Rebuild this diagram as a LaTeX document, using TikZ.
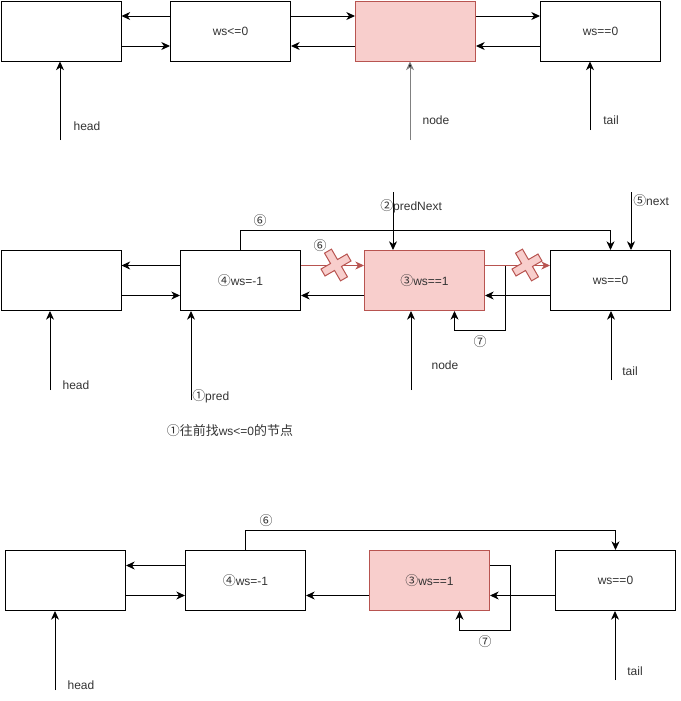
\documentclass[tikz,border=0pt]{standalone}
\usepackage{fontspec}
\setmainfont{Liberation Sans}
\newfontfamily\cjk[Scale=1.08]{Noto Sans CJK SC}
\usetikzlibrary{arrows.meta}
\definecolor{pinkfill}{RGB}{248,206,204}
\definecolor{pinkline}{RGB}{184,84,80}
\definecolor{txtgray}{RGB}{51,51,51}
\tikzset{redcross/.pic={
  \draw[pinkline, fill=pinkfill, line width=0.75pt, rotate=30] (4,16) -- (4,4) -- (15,4) -- (15,-4) -- (4,-4) -- (4,-16) -- (-4,-16) -- (-4,-4) -- (-15,-4) -- (-15,4) -- (-4,4) -- (-4,16) -- cycle;
}}

\begin{document}
\begin{tikzpicture}[x=0.75pt,y=-0.75pt,
  box/.style={draw, line width=0.75pt, minimum width=90pt, minimum height=45pt, anchor=north west, inner sep=0pt, text=txtgray, font=\fontsize{9}{11}\selectfont},
  hot/.style={box, draw=pinkline, fill=pinkfill},
  arr/.style={line width=0.75pt, -{Stealth[length=6.5pt,width=6pt,inset=2pt]}},
  redarr/.style={line width=0.75pt, draw=pinkline, -{Stealth[length=6.5pt,width=6pt,inset=2pt,fill=pinkline]}},
  lbl/.style={text=txtgray, font=\fontsize{9}{11}\selectfont, inner sep=0pt},
]
\useasboundingbox (0,0) rectangle (681,701);
\def\up{11.25pt}

%Row 1: before
\node[box] (A1) at (0.5,0.5) {};
\node[box] (B1) at (170,0.5) {ws<=0};
\node[hot] (C1) at (355,0.5) {};
\node[box] (D1) at (540,0.5) {ws==0};

\draw[arr] ([yshift=\up]B1.west) -- ([yshift=\up]A1.east);
\draw[arr] ([yshift=-\up]A1.east) -- ([yshift=-\up]B1.west);
\draw[arr] ([yshift=\up]B1.east) -- ([yshift=\up]C1.west);
\draw[arr] ([yshift=-\up]C1.west) -- ([yshift=-\up]B1.east);
\draw[arr] ([yshift=\up]C1.east) -- ([yshift=\up]D1.west);
\draw[arr] ([yshift=-\up]D1.west) -- ([yshift=-\up]C1.east);

%Pointers
\coordinate (head1) at (60,140);
\coordinate (node1) at (410,140);
\coordinate (tail1) at (590,130);
\draw[arr] (head1) -- (head1 |- A1.south);
\draw[arr, draw=gray, -{Stealth[length=6.5pt,width=6pt,inset=2pt,fill=black]}] (node1) -- (node1 |- C1.south);
\draw[arr] (tail1) -- (tail1 |- D1.south);
\node[lbl] (headlbl1) at (87,126) {head};
\node[lbl] (nodelbl1) at (436,120) {node};
\node[lbl] (taillbl1) at (611,120) {tail};

%Row 2: cancel
\node[box] (A2) at (0.5,250) {};
\node[box] (B2) at (180,250) {{\cjk ④}ws=-1};
\node[hot] (C2) at (364,250) {{\cjk ③}ws==1};
\node[box] (D2) at (550,250) {ws==0};

\draw[arr] ([yshift=\up]B2.west) -- ([yshift=\up]A2.east);
\draw[arr] ([yshift=-\up]A2.east) -- ([yshift=-\up]B2.west);
\draw[arr] ([yshift=-\up]C2.west) -- ([yshift=-\up]B2.east);
\draw[arr] ([yshift=-\up]D2.west) -- ([yshift=-\up]C2.east);

%Step 6 and 7
\draw[arr] (B2.north) -- ++(0,-20) -| (D2.north);
\draw[arr] ([yshift=\up]C2.east) -- ++(20,0) -- ++(0,65) -| ([xshift=22.5pt]C2.south);
\draw[redarr] ([yshift=\up]B2.east) -- ([yshift=\up]C2.west);
\draw[redarr] ([yshift=\up]C2.east) -- ([yshift=\up]D2.west);
\pic at (336,265) {redcross};
\pic at (527,265) {redcross};

%Pointers
\coordinate (head2) at (50,390);
\coordinate (pred2) at (191,400);
\coordinate (prednext2) at (393,192);
\coordinate (next2) at (631,192);
\coordinate (node2) at (411,390);
\coordinate (tail2) at (611,380);
\draw[arr] (head2) -- (head2 |- A2.south);
\draw[arr] (pred2) -- (pred2 |- B2.south);
\draw[arr] (prednext2) -- (prednext2 |- C2.north);
\draw[arr] (next2) -- (next2 |- D2.north);
\draw[arr] (node2) -- (node2 |- C2.south);
\draw[arr] (tail2) -- (tail2 |- D2.south);
\node[lbl] (headlbl2) at (76,385) {head};
\node[lbl, anchor=west] (predlbl2) at (192,396) {{\cjk ①}pred};
\node[lbl] (findlbl2) at (230,431) {{\cjk ①往前找}ws<=0{\cjk 的节点}};
\node[lbl, anchor=west] (prednextlbl2) at (380,206) {{\cjk ②}predNext};
\node[lbl, anchor=west] (nextlbl2) at (633,201) {{\cjk ⑤}next};
\node[lbl] (sixlbl2) at (260,221) {\cjk ⑥};
\node[lbl] (sixcross2) at (320,246) {\cjk ⑥};
\node[lbl] (sevenlbl2) at (480,342) {\cjk ⑦};
\node[lbl] (nodelbl2) at (445,365) {node};
\node[lbl] (taillbl2) at (630,371) {tail};

%Row 3: after
\node[box] (A3) at (5,550) {};
\node[box] (B3) at (185,550) {{\cjk ④}ws=-1};
\node[hot] (C3) at (369,550) {{\cjk ③}ws==1};
\node[box] (D3) at (555,550) {ws==0};

\draw[arr] ([yshift=\up]B3.west) -- ([yshift=\up]A3.east);
\draw[arr] ([yshift=-\up]A3.east) -- ([yshift=-\up]B3.west);
\draw[arr] ([yshift=-\up]C3.west) -- ([yshift=-\up]B3.east);
\draw[arr] ([yshift=-\up]D3.west) -- ([yshift=-\up]C3.east);
\draw[arr] (B3.north) -- ++(0,-20) -| (D3.north);
\draw[arr] ([yshift=\up]C3.east) -- ++(20,0) -- ++(0,65) -| ([xshift=22.5pt]C3.south);

%Pointers
\coordinate (head3) at (55,690);
\coordinate (tail3) at (615,680);
\draw[arr] (head3) -- (head3 |- A3.south);
\draw[arr] (tail3) -- (tail3 |- D3.south);
\node[lbl] (headlbl3) at (81,685) {head};
\node[lbl] (sixlbl3) at (266,521) {\cjk ⑥};
\node[lbl] (sevenlbl3) at (485,642) {\cjk ⑦};
\node[lbl] (taillbl3) at (635,671) {tail};

\end{tikzpicture}
\end{document}
